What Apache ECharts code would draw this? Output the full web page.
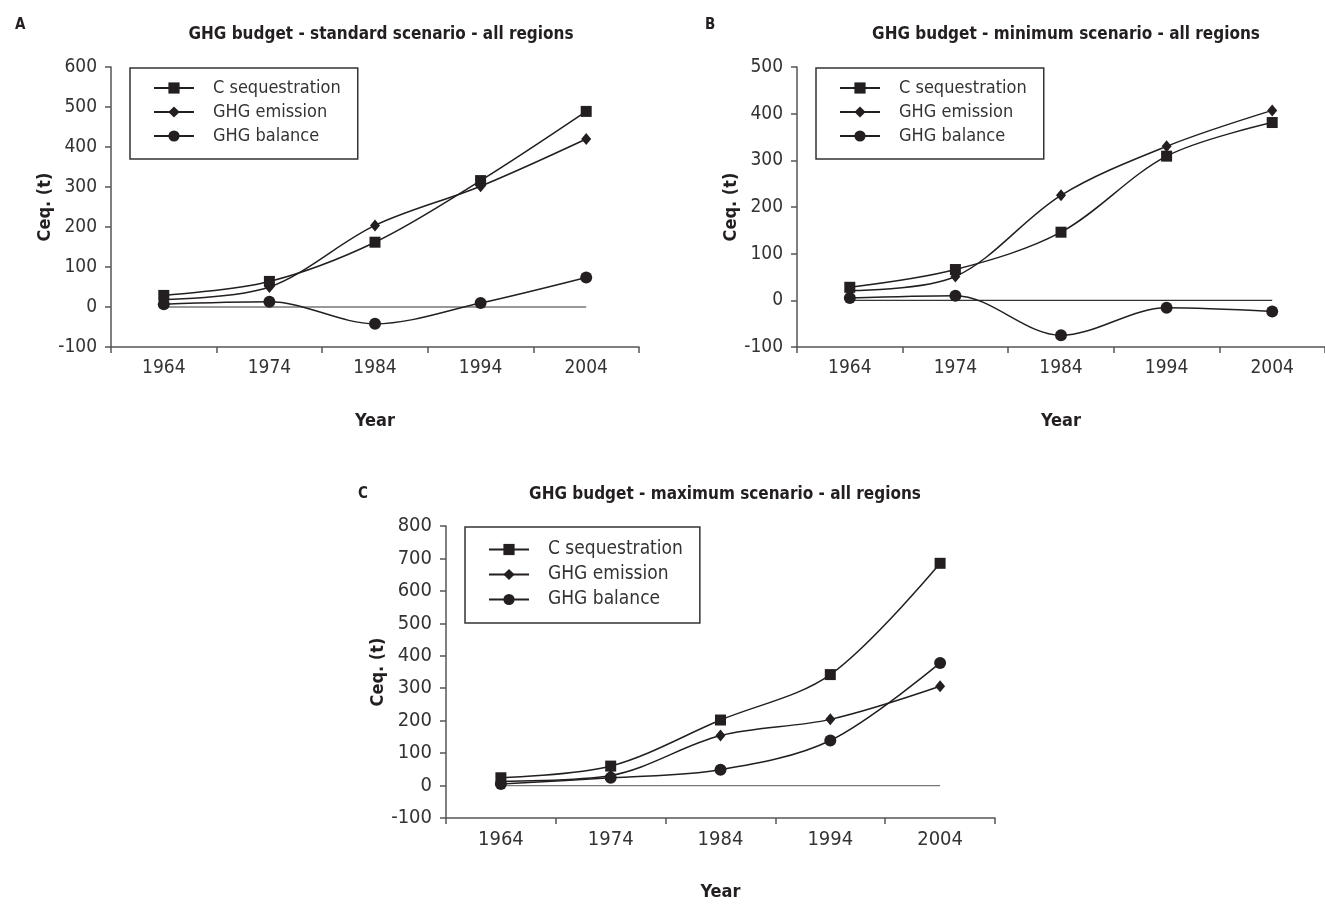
<!DOCTYPE html>
<html>
<head>
<meta charset="utf-8">
<script src="https://cdn.jsdelivr.net/npm/echarts@6/dist/echarts.min.js"></script>
<style>
html,body{margin:0;padding:0;background:#fff;}
#chart{width:1325px;height:905px;}
</style>
</head>
<body>
<div id="chart"></div>
<script>
// ---- data ----
const years = ['1964', '1974', '1984', '1994', '2004'];
const seriesNames = ['C sequestration', 'GHG emission', 'GHG balance'];

// Panel A: standard scenario
const seqA = [29, 64, 162, 316, 489];
const emiA = [19, 50, 204, 302, 420];
const balA = [7, 13, -42, 10, 74];

// Panel B: minimum scenario
const seqB = [28, 66, 146, 309, 381];
const emiB = [21, 51, 225, 330, 407];
const balB = [5, 10, -75, -16, -24];

// Panel C: maximum scenario
const seqC = [24, 60, 202, 342, 685];
const emiC = [13, 31, 154, 204, 306];
const balC = [5, 24, 49, 139, 378];

// zero reference line
const zeroRef = [0, 0, 0, 0, 0];

const titles = [
  'GHG budget - standard scenario - all regions',
  'GHG budget - minimum scenario - all regions',
  'GHG budget - maximum scenario - all regions'
];
const panelLetters = ['A', 'B', 'C'];
const yRanges = [
  { min: -100, max: 600, interval: 100 },
  { min: -100, max: 500, interval: 100 },
  { min: -100, max: 800, interval: 100 }
];

// ---- styling ----
const FONT = '"Liberation Sans Narrow", "DejaVu Sans Condensed", "Arial Narrow", sans-serif';
const INK = '#231f20';
const AXIS = '#555555';

const grids = [
  { left: 111, top: 67, width: 528, height: 280 },
  { left: 797, top: 67, width: 528, height: 280 },
  { left: 446, top: 526, width: 549, height: 292 }
];
const tickFont = [19, 19, 20];

const chart = echarts.init(document.getElementById('chart'), null, { renderer: 'canvas' });

const xAxes = grids.map((g, i) => ({
  type: 'category',
  gridIndex: i,
  data: years,
  boundaryGap: true,
  name: 'Year',
  nameLocation: 'middle',
  nameGap: 65,
  nameTextStyle: { fontFamily: FONT, fontWeight: 'bold', fontSize: 18, color: INK },
  axisLine: { onZero: false, lineStyle: { color: AXIS, width: 1.5 } },
  axisTick: { show: true, length: 6, lineStyle: { color: AXIS, width: 1.5 } },
  axisLabel: { fontFamily: FONT, fontSize: tickFont[i], color: '#333', margin: 12 },
  splitLine: { show: false }
}));

const yAxes = grids.map((g, i) => ({
  type: 'value',
  gridIndex: i,
  min: yRanges[i].min,
  max: yRanges[i].max,
  interval: yRanges[i].interval,
  name: 'Ceq. (t)',
  nameLocation: 'middle',
  nameGap: 56,
  nameTextStyle: { fontFamily: FONT, fontWeight: 'bold', fontSize: 18, color: INK },
  axisLine: { show: true, lineStyle: { color: AXIS, width: 1.5 } },
  axisTick: { show: true, length: 6, lineStyle: { color: AXIS, width: 1.5 } },
  axisLabel: { fontFamily: FONT, fontSize: tickFont[i], color: '#333', margin: 14 },
  splitLine: { show: false }
}));

const panelData = [
  [seqA, emiA, balA],
  [seqB, emiB, balB],
  [seqC, emiC, balC]
];
const symbols = ['rect', 'diamond', 'circle'];
const symbolSizes = [11, [10, 12], 12];

const series = [];
panelData.forEach((arrs, p) => {
  series.push({
    name: 'zero',
    type: 'line',
    xAxisIndex: p,
    yAxisIndex: p,
    data: zeroRef,
    symbol: 'none',
    silent: true,
    lineStyle: { color: p === 1 ? '#333' : '#777', width: 1.3 },
    z: 1
  });
  arrs.forEach((arr, k) => {
    series.push({
      name: seriesNames[k],
      type: 'line',
      xAxisIndex: p,
      yAxisIndex: p,
      data: arr,
      smooth: 0.33,
      symbol: symbols[k],
      symbolSize: symbolSizes[k],
      itemStyle: { color: INK },
      lineStyle: { color: INK, width: 1.5 },
      z: 3
    });
  });
});

const legendPos = [
  { left: 130, top: 68 },
  { left: 816, top: 68 },
  { left: 465, top: 527 }
];
const legends = legendPos.map((pos, i) => ({
  data: seriesNames,
  orient: 'vertical',
  left: pos.left,
  top: pos.top,
  itemWidth: 40,
  itemHeight: 14,
  itemGap: i === 2 ? 6 : 6,
  padding: i === 2 ? [13, 17, 14, 23] : [11, 17, 14, 23],
  borderColor: '#333',
  borderWidth: 1.5,
  backgroundColor: '#fff',
  selectedMode: false,
  textStyle: { fontFamily: FONT, fontSize: i === 2 ? 19 : 18, lineHeight: 14, color: '#333', padding: [0, 0, 0, 14] }
}));

const titleComps = [];
const titleCenters = [376, 1061, 720];
const titleTops = [21, 21, 481];
const letterPos = [{ left: 10, top: 13 }, { left: 700, top: 13 }, { left: 353, top: 482 }];
titles.forEach((t, i) => {
  titleComps.push({
    text: t,
    left: titleCenters[i],
    top: titleTops[i],
    textAlign: 'center',
    textStyle: { fontFamily: FONT, fontWeight: 'bold', fontSize: 17, color: INK }
  });
  titleComps.push({
    text: panelLetters[i],
    left: letterPos[i].left,
    top: letterPos[i].top,
    textStyle: { fontFamily: FONT, fontWeight: 'bold', fontSize: 15, color: INK }
  });
});

chart.setOption({
  animation: false,
  backgroundColor: '#fff',
  title: titleComps,
  legend: legends,
  grid: grids,
  xAxis: xAxes,
  yAxis: yAxes,
  series: series
});
</script>
</body>
</html>
